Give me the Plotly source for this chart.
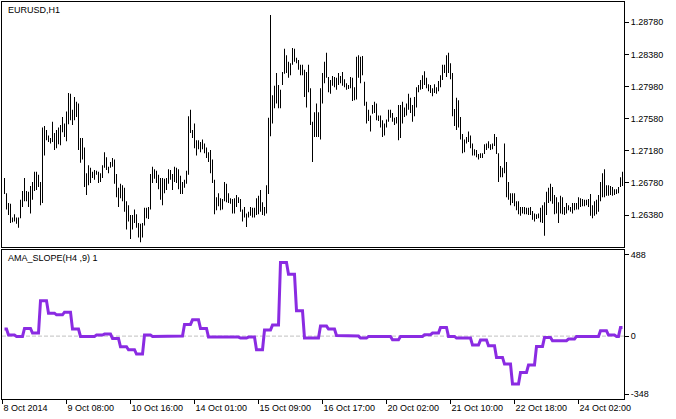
import numpy as np
import plotly.graph_objects as go

# ---------------- data ----------------
highs = [
    1.2684, 1.2665, 1.2653, 1.2652, 1.2635, 1.2639, 1.2635, 1.2635, 1.2657, 1.2668,
    1.2684, 1.2668, 1.2667, 1.2674, 1.2679, 1.2692, 1.2692, 1.2688, 1.2679, 1.2747,
    1.2749, 1.2744, 1.2737, 1.2734, 1.2754, 1.2740, 1.2744, 1.2747, 1.2750, 1.2760,
    1.2752, 1.2767, 1.2790, 1.2789, 1.2769, 1.2785, 1.2779, 1.2777, 1.2734, 1.2734,
    1.2722, 1.2690, 1.2700, 1.2697, 1.2692, 1.2694, 1.2693, 1.2692, 1.2690, 1.2700,
    1.2716, 1.2710, 1.2698, 1.2704, 1.2709, 1.2707, 1.2689, 1.2672, 1.2677, 1.2675,
    1.2672, 1.2655, 1.2650, 1.2638, 1.2638, 1.2645, 1.2639, 1.2628, 1.2627, 1.2628,
    1.2647, 1.2647, 1.2648, 1.2689, 1.2698, 1.2695, 1.2693, 1.2688, 1.2684, 1.2684,
    1.2683, 1.2684, 1.2695, 1.2694, 1.2689, 1.2698, 1.2697, 1.2695, 1.2687, 1.2679,
    1.2682, 1.2693, 1.2761, 1.2769, 1.2744, 1.2752, 1.2731, 1.2731, 1.2729, 1.2732,
    1.2727, 1.2722, 1.2716, 1.2719, 1.2707, 1.2682, 1.2660, 1.2665, 1.2659, 1.2658,
    1.2679, 1.2677, 1.2665, 1.2659, 1.2658, 1.2659, 1.2663, 1.2660, 1.2658, 1.2645,
    1.2648, 1.2640, 1.2642, 1.2648, 1.2647, 1.2647, 1.2659, 1.2662, 1.2669, 1.2654,
    1.2648, 1.2675, 1.2759, 1.2887, 1.2787, 1.2799, 1.2815, 1.2800, 1.2794, 1.2816,
    1.2845, 1.2837, 1.2829, 1.2827, 1.2846, 1.2845, 1.2834, 1.2831, 1.2825, 1.2825,
    1.2819, 1.2816, 1.2825, 1.2796, 1.2754, 1.2766, 1.2777, 1.2766, 1.2796, 1.2815,
    1.2829, 1.2840, 1.2810, 1.2806, 1.2811, 1.2810, 1.2809, 1.2815, 1.2811, 1.2816,
    1.2807, 1.2802, 1.2800, 1.2810, 1.2809, 1.2797, 1.2835, 1.2837, 1.2835, 1.2836,
    1.2804, 1.2779, 1.2769, 1.2762, 1.2775, 1.2779, 1.2777, 1.2762, 1.2762, 1.2756,
    1.2752, 1.2757, 1.2769, 1.2769, 1.2765, 1.2759, 1.2760, 1.2775, 1.2775, 1.2779,
    1.2772, 1.2777, 1.2789, 1.2784, 1.2775, 1.2785, 1.2797, 1.2800, 1.2806, 1.2812,
    1.2817, 1.2809, 1.2801, 1.2800, 1.2796, 1.2801, 1.2797, 1.2805, 1.2812, 1.2825,
    1.2825, 1.2837, 1.2840, 1.2827, 1.2815, 1.2770, 1.2784, 1.2781, 1.2760, 1.2739,
    1.2732, 1.2735, 1.2742, 1.2737, 1.2727, 1.2720, 1.2719, 1.2714, 1.2715, 1.2715,
    1.2726, 1.2727, 1.2730, 1.2726, 1.2727, 1.2739, 1.2735, 1.2715, 1.2699, 1.2697,
    1.2727, 1.2704, 1.2679, 1.2665, 1.2665, 1.2665, 1.2655, 1.2655, 1.2648, 1.2648,
    1.2648, 1.2647, 1.2647, 1.2648, 1.2643, 1.2640, 1.2639, 1.2640, 1.2647, 1.2650,
    1.2654, 1.2667, 1.2672, 1.2677, 1.2673, 1.2663, 1.2660, 1.2654, 1.2662, 1.2660,
    1.2648, 1.2653, 1.2650, 1.2648, 1.2653, 1.2653, 1.2653, 1.2660, 1.2659, 1.2658,
    1.2657, 1.2657, 1.2658, 1.2664, 1.2650, 1.2655, 1.2657, 1.2663, 1.2679, 1.2690,
    1.2695, 1.2675, 1.2675, 1.2674, 1.2673, 1.2670, 1.2670, 1.2673, 1.2685, 1.2692,
]
lows = [
    1.2664, 1.2645, 1.2638, 1.2628, 1.2629, 1.2630, 1.2627, 1.2622, 1.2634, 1.2648,
    1.2655, 1.2655, 1.2648, 1.2640, 1.2657, 1.2668, 1.2669, 1.2673, 1.2650, 1.2653,
    1.2712, 1.2731, 1.2729, 1.2727, 1.2729, 1.2719, 1.2721, 1.2726, 1.2725, 1.2741,
    1.2735, 1.2730, 1.2751, 1.2756, 1.2750, 1.2756, 1.2760, 1.2719, 1.2703, 1.2707,
    1.2673, 1.2663, 1.2675, 1.2678, 1.2684, 1.2682, 1.2688, 1.2678, 1.2679, 1.2684,
    1.2697, 1.2694, 1.2690, 1.2697, 1.2698, 1.2677, 1.2660, 1.2648, 1.2659, 1.2655,
    1.2642, 1.2620, 1.2630, 1.2608, 1.2620, 1.2628, 1.2622, 1.2610, 1.2604, 1.2610,
    1.2625, 1.2634, 1.2633, 1.2645, 1.2678, 1.2683, 1.2678, 1.2670, 1.2657, 1.2650,
    1.2665, 1.2669, 1.2677, 1.2682, 1.2669, 1.2679, 1.2678, 1.2670, 1.2664, 1.2664,
    1.2672, 1.2677, 1.2688, 1.2740, 1.2734, 1.2721, 1.2712, 1.2720, 1.2716, 1.2720,
    1.2715, 1.2709, 1.2704, 1.2690, 1.2678, 1.2639, 1.2644, 1.2649, 1.2644, 1.2645,
    1.2655, 1.2654, 1.2653, 1.2652, 1.2640, 1.2640, 1.2648, 1.2653, 1.2642, 1.2630,
    1.2635, 1.2623, 1.2635, 1.2637, 1.2635, 1.2635, 1.2638, 1.2639, 1.2642, 1.2638,
    1.2637, 1.2640, 1.2664, 1.2736, 1.2752, 1.2771, 1.2777, 1.2771, 1.2771, 1.2800,
    1.2814, 1.2815, 1.2809, 1.2812, 1.2825, 1.2829, 1.2827, 1.2819, 1.2812, 1.2812,
    1.2785, 1.2772, 1.2791, 1.2750, 1.2704, 1.2735, 1.2735, 1.2735, 1.2732, 1.2777,
    1.2802, 1.2809, 1.2791, 1.2789, 1.2799, 1.2797, 1.2794, 1.2800, 1.2802, 1.2799,
    1.2797, 1.2794, 1.2795, 1.2796, 1.2780, 1.2781, 1.2782, 1.2809, 1.2802, 1.2812,
    1.2774, 1.2752, 1.2755, 1.2742, 1.2764, 1.2765, 1.2756, 1.2755, 1.2747, 1.2735,
    1.2737, 1.2747, 1.2754, 1.2759, 1.2754, 1.2750, 1.2752, 1.2731, 1.2734, 1.2752,
    1.2760, 1.2762, 1.2769, 1.2765, 1.2754, 1.2761, 1.2772, 1.2791, 1.2794, 1.2795,
    1.2800, 1.2796, 1.2792, 1.2790, 1.2786, 1.2790, 1.2789, 1.2792, 1.2797, 1.2806,
    1.2815, 1.2810, 1.2815, 1.2807, 1.2761, 1.2749, 1.2744, 1.2747, 1.2732, 1.2715,
    1.2716, 1.2727, 1.2729, 1.2721, 1.2712, 1.2712, 1.2710, 1.2707, 1.2709, 1.2709,
    1.2714, 1.2719, 1.2721, 1.2719, 1.2720, 1.2724, 1.2714, 1.2679, 1.2685, 1.2685,
    1.2690, 1.2660, 1.2657, 1.2650, 1.2653, 1.2649, 1.2644, 1.2639, 1.2637, 1.2640,
    1.2639, 1.2639, 1.2638, 1.2638, 1.2632, 1.2630, 1.2633, 1.2634, 1.2629, 1.2628,
    1.2612, 1.2638, 1.2653, 1.2655, 1.2652, 1.2639, 1.2640, 1.2628, 1.2640, 1.2639,
    1.2638, 1.2640, 1.2644, 1.2642, 1.2640, 1.2644, 1.2645, 1.2645, 1.2648, 1.2649,
    1.2649, 1.2650, 1.2648, 1.2637, 1.2634, 1.2637, 1.2639, 1.2642, 1.2655, 1.2660,
    1.2660, 1.2662, 1.2662, 1.2663, 1.2662, 1.2663, 1.2664, 1.2665, 1.2673, 1.2674,
]

# AMA_SLOPE computed on H4: one value per H4 block, shown on H1 bars
slope_h4 = [
    42, 6, -2, 46, 18, 212, 138, 128, 144, 42,
    -2, -2, 6, 12, -14, -64, -82, -108, 6, -2,
    -2, 0, 0, 70, 98, 46, -6, -6, -6, -6,
    -12, -6, -82, 36, 66, 442, 372, 152, -12, -12,
    60, 42, 4, 4, 0, -12, -2, -2, -2, -22,
    -2, -2, -2, 8, 18, 52, -2, -12, -12, -54,
    -24, -58, -128, -168, -288, -218, -174, -62, -8, -28,
    -28, -18, -2, -2, -2, 32, 6, -2, 52,
]
h1_bars_per_block = [2] + [4] * 76 + [2, 2]

date_tick_bars = [-1, 31, 63, 95, 127, 159, 191, 223, 255, 287]
date_tick_labels = ["8 Oct 2014", "9 Oct 08:00", "10 Oct 16:00", "14 Oct 01:00",
                    "15 Oct 09:00", "16 Oct 17:00", "20 Oct 02:00", "21 Oct 10:00",
                    "22 Oct 18:00", "24 Oct 02:00"]
price_ticks = [1.28780, 1.28380, 1.27980, 1.27580, 1.27180, 1.26780, 1.26380]
slope_ticks = [488, 0, -348]

# ---------------- figure ----------------
n = len(highs)
idx = np.arange(n)
hi = np.array(highs)
lo = np.array(lows)
slope_h1 = np.repeat(np.array(slope_h4, dtype=float), h1_bars_per_block)

FONT = "Liberation Sans, Arial, sans-serif"
fig = go.Figure()

fig.add_trace(go.Bar(
    x=idx, base=lo, y=hi - lo, width=0.5,
    marker=dict(color="black", line=dict(width=0)),
    xaxis="x", yaxis="y", showlegend=False, hoverinfo="skip",
))

fig.add_trace(go.Scatter(
    x=idx, y=slope_h1, mode="lines",
    line=dict(color="#8A2BE2", width=3),
    xaxis="x2", yaxis="y2", showlegend=False, hoverinfo="skip",
))

xr = [-1.25, 309.75]
common_axis = dict(showline=True, linecolor="black", linewidth=1, mirror=True,
                   showgrid=False, zeroline=False)

fig.update_layout(
    width=676, height=419,
    margin=dict(l=2, r=52, t=2, b=20),
    paper_bgcolor="white", plot_bgcolor="white",
    font=dict(family=FONT, size=9, color="black"),
    xaxis=dict(domain=[0, 1], range=xr, anchor="y", showticklabels=False,
               ticks="", **common_axis),
    yaxis=dict(domain=[0.383, 1], range=[1.25982, 1.29033], side="right",
               anchor="x", tickvals=price_ticks,
               ticktext=[f"{v:.5f}" for v in price_ticks],
               ticks="outside", ticklen=4, tickcolor="black",
               tickfont=dict(family=FONT, size=9, color="black"), **common_axis),
    xaxis2=dict(domain=[0, 1], range=xr, anchor="y2",
                tickvals=date_tick_bars, ticktext=date_tick_labels,
                ticks="outside", ticklen=4, tickcolor="black",
                ticklabelposition="outside right",
                tickfont=dict(family=FONT, size=9, color="black"), **common_axis),
    yaxis2=dict(domain=[0, 0.376], range=[-378, 519], side="right", anchor="x2",
                tickvals=slope_ticks, ticktext=[str(v) for v in slope_ticks],
                ticks="outside", ticklen=4, tickcolor="black",
                tickfont=dict(family=FONT, size=9, color="black"), **common_axis),
    shapes=[dict(type="line", xref="x2 domain", yref="y2", x0=0, x1=1, y0=0, y1=0,
                 line=dict(color="#C0C0C0", width=1, dash="4px,2px"), layer="below")],
    annotations=[
        dict(text="EURUSD,H1", xref="paper", yref="paper", x=0.0065, y=0.981,
             xanchor="left", yanchor="middle", showarrow=False,
             font=dict(family=FONT, size=9, color="black")),
        dict(text="AMA_SLOPE(H4 ,9) 1", xref="paper", yref="paper", x=0.006, y=0.355,
             xanchor="left", yanchor="middle", showarrow=False,
             font=dict(family=FONT, size=9, color="black")),
    ],
)

fig.write_html(
    "out.html",
    config={"displayModeBar": False},
    post_script="document.body.style.margin='0';document.body.style.overflow='hidden';",
)
